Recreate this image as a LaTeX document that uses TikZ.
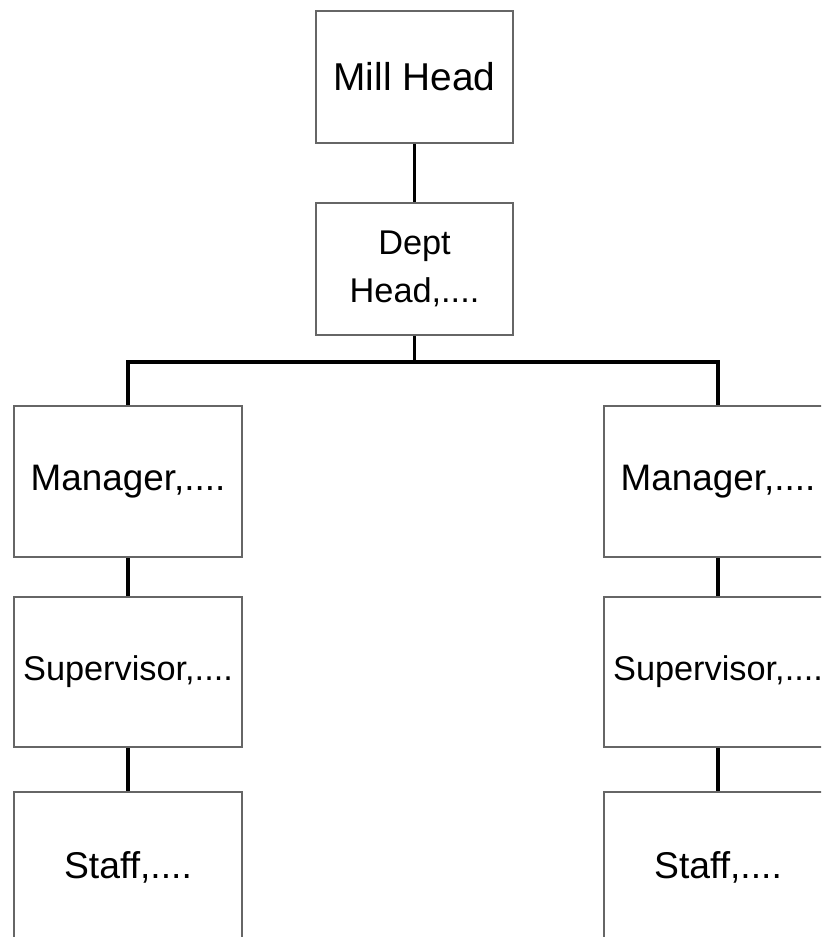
\documentclass[tikz,border=0pt]{standalone}
\usepackage{fontspec}
\setmainfont{Liberation Sans}
\usepackage{tikz}

\begin{document}
\begin{tikzpicture}[x=0.025cm,y=-0.025cm]
\tikzset{box/.style = {shape=rectangle,draw=black!60,line width=1.4pt,fill=white,
  inner sep=0pt,align=center}}
\tikzset{link/.style = {draw=black,line width=2.2pt}}
\path[use as bounding box,clip] (0,0) rectangle (821,937);
% boxes
\node[box,minimum width=4.925cm,minimum height=3.3cm,font=\fontsize{27.6}{33}\selectfont] (mill) at (414.5,77) {Mill Head};
\node[box,minimum width=4.925cm,minimum height=3.3cm,font=\fontsize{24.4}{34}\selectfont] (dept) at (414.5,269) {Dept\\Head,....};
\node[box,minimum width=5.7cm,minimum height=3.775cm,font=\fontsize{26.2}{31}\selectfont] (mgrL) at (128,481.5) {Manager,....};
\node[box,minimum width=5.7cm,minimum height=3.75cm,font=\fontsize{24.4}{29}\selectfont] (supL) at (128,672) {Supervisor,....};
\node[box,minimum width=5.7cm,minimum height=3.75cm,font=\fontsize{26.5}{31}\selectfont] (stfL) at (128,867) {Staff,....};
\node[box,minimum width=5.7cm,minimum height=3.775cm,font=\fontsize{26.2}{31}\selectfont] (mgrR) at (718,481.5) {Manager,....};
\node[box,minimum width=5.7cm,minimum height=3.75cm,font=\fontsize{24.4}{29}\selectfont] (supR) at (718,672) {Supervisor,....};
\node[box,minimum width=5.7cm,minimum height=3.75cm,font=\fontsize{26.5}{31}\selectfont] (stfR) at (718,867) {Staff,....};
\coordinate (split) at (414.5,362);

% links
\draw[link] (mill) -- (dept);
\draw[link] (dept.south) -- (split);
\draw[link] (split) -| (mgrL.north);
\draw[link] (split) -| (mgrR.north);
\draw[link] (mgrL) -- (supL);
\draw[link] (supL) -- (stfL);
\draw[link] (mgrR) -- (supR);
\draw[link] (supR) -- (stfR);
\end{tikzpicture}
\end{document}
